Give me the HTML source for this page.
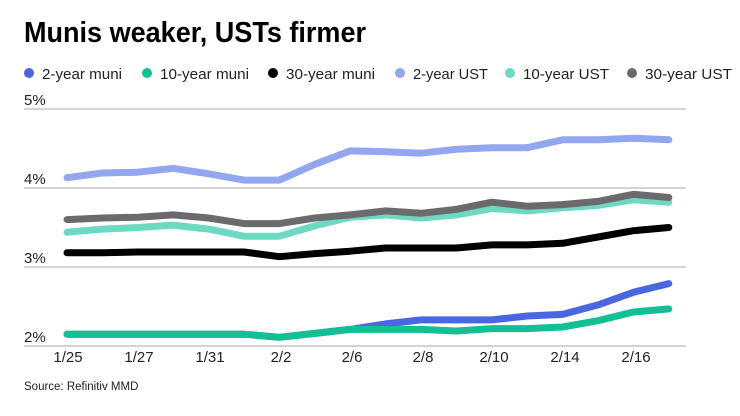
<!DOCTYPE html>
<html><head><meta charset="utf-8"><style>
html,body{margin:0;padding:0;background:#fff;width:740px;height:416px;overflow:hidden}
svg{display:block;font-family:"Liberation Sans",sans-serif}
</style></head><body>
<svg id="c" width="740" height="416" viewBox="0 0 740 416" xmlns="http://www.w3.org/2000/svg">
<text x="24" y="42" font-size="29" font-weight="bold" fill="#000" textLength="342" lengthAdjust="spacingAndGlyphs">Munis weaker, USTs firmer</text>
<g font-size="15" fill="#222">
<circle cx="29" cy="73" r="5" fill="#4a66e0"/><text x="42" y="79" textLength="80" lengthAdjust="spacingAndGlyphs">2-year muni</text>
<circle cx="147" cy="73" r="5" fill="#13bf95"/><text x="160" y="79" textLength="89" lengthAdjust="spacingAndGlyphs">10-year muni</text>
<circle cx="273" cy="73" r="5" fill="#000"/><text x="286" y="79" textLength="89" lengthAdjust="spacingAndGlyphs">30-year muni</text>
<circle cx="400" cy="73" r="5" fill="#93a6f0"/><text x="413" y="79" textLength="75" lengthAdjust="spacingAndGlyphs">2-year UST</text>
<circle cx="510" cy="73" r="5" fill="#6dd9c3"/><text x="523" y="79" textLength="86" lengthAdjust="spacingAndGlyphs">10-year UST</text>
<circle cx="632" cy="73" r="5" fill="#6b6b6e"/><text x="645" y="79" textLength="87" lengthAdjust="spacingAndGlyphs">30-year UST</text>
</g>
<g stroke="#bbb" stroke-width="1.2">
<line x1="24" y1="109" x2="686" y2="109"/><line x1="24" y1="188" x2="686" y2="188"/>
<line x1="24" y1="267" x2="686" y2="267"/><line x1="24" y1="346" x2="686" y2="346"/>
</g>
<g font-size="15" fill="#222">
<text x="24" y="105">5%</text><text x="24" y="184">4%</text><text x="24" y="263">3%</text><text x="24" y="342">2%</text>
</g>
<g id="lines" fill="none" stroke-width="7" stroke-linejoin="round" stroke-linecap="round"></g>
<g font-size="15" fill="#222" text-anchor="middle">
<text x="68" y="362">1/25</text><text x="139" y="362">1/27</text><text x="210" y="362">1/31</text>
<text x="281" y="362">2/2</text><text x="352" y="362">2/6</text><text x="423" y="362">2/8</text>
<text x="494" y="362">2/10</text><text x="565" y="362">2/14</text><text x="636" y="362">2/16</text>
</g>
<text x="24" y="390" font-size="11.5" fill="#222">Source: Refinitiv MMD</text>
</svg>
<script>
var S=[
["#93a6f0",[4.13,4.19,4.2,4.25,4.18,4.1,4.1,4.3,4.47,4.46,4.44,4.49,4.51,4.51,4.61,4.61,4.63,4.61]],
["#6dd9c3",[3.44,3.48,3.5,3.53,3.48,3.39,3.39,3.52,3.63,3.66,3.62,3.66,3.74,3.71,3.75,3.78,3.85,3.82]],
["#6b6b6e",[3.6,3.62,3.63,3.66,3.62,3.55,3.55,3.62,3.66,3.71,3.68,3.73,3.82,3.77,3.79,3.83,3.92,3.88]],
["#000000",[3.18,3.18,3.19,3.19,3.19,3.19,3.13,3.17,3.2,3.24,3.24,3.24,3.28,3.28,3.3,3.38,3.46,3.5]],
["#4a66e0",[2.15,2.15,2.15,2.15,2.15,2.15,2.11,2.16,2.21,2.28,2.33,2.33,2.33,2.38,2.4,2.52,2.68,2.79]],
["#13bf95",[2.15,2.15,2.15,2.15,2.15,2.15,2.11,2.16,2.21,2.21,2.21,2.19,2.22,2.22,2.24,2.32,2.43,2.47]]
];
var g=document.getElementById("lines"),h="";
S.forEach(function(s){var p=s[1].map(function(v,i){return (67+i*35.4).toFixed(1)+","+(346-(v-2)*79).toFixed(1)}).join(" ");
h+='<polyline stroke="'+s[0]+'" points="'+p+'"/>';});
g.innerHTML=h;
</script>
</body></html>
